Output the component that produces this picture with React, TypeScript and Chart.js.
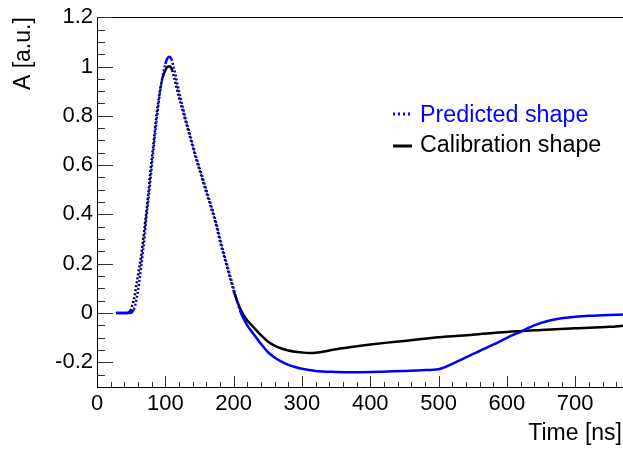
import React, { useEffect, useRef } from "react";
import { Chart, registerables } from "chart.js";

Chart.register(...registerables);

// ---- data ----
const predTime = [28, 35, 42, 48, 51, 54, 57, 60, 63, 66, 69, 72, 76, 80, 84, 88, 92, 96, 100, 103, 106, 109, 112, 115, 118, 122, 126, 130, 135, 140, 145, 150, 155, 160, 165, 170, 175, 180, 185, 190, 195, 200, 205, 210, 215, 220, 225, 230, 240, 250, 260, 270, 280, 290, 300, 310, 320, 330, 340, 350, 375, 400, 425, 450, 475, 500, 510, 520, 530, 540, 550, 560, 570, 580, 590, 600, 610, 620, 630, 640, 650, 660, 670, 680, 690, 700, 720, 740, 760, 770];
const predValues = [0, 0, 0, 0, 0.003, 0.015, 0.045, 0.09, 0.15, 0.22, 0.29, 0.38, 0.48, 0.59, 0.7, 0.8, 0.89, 0.96, 1.01, 1.033, 1.04, 1.03, 1.0, 0.965, 0.925, 0.875, 0.83, 0.785, 0.735, 0.685, 0.635, 0.59, 0.545, 0.5, 0.455, 0.41, 0.36, 0.305, 0.25, 0.2, 0.15, 0.1, 0.05, 0.005, -0.025, -0.05, -0.07, -0.088, -0.125, -0.158, -0.18, -0.197, -0.21, -0.219, -0.226, -0.231, -0.235, -0.237, -0.238, -0.239, -0.24, -0.239, -0.237, -0.235, -0.232, -0.228, -0.219, -0.206, -0.193, -0.18, -0.167, -0.154, -0.141, -0.128, -0.115, -0.101, -0.088, -0.076, -0.062, -0.05, -0.04, -0.032, -0.026, -0.021, -0.018, -0.015, -0.011, -0.009, -0.007, -0.006];

const calTime = [28, 35, 42, 46, 49, 52, 55, 58, 61, 64, 67, 71, 75, 78, 82, 87, 92, 96, 100, 104, 107, 110, 113, 116, 120, 125, 130, 135, 140, 145, 150, 155, 160, 165, 170, 175, 180, 185, 190, 195, 200, 205, 210, 215, 220, 225, 230, 240, 250, 260, 270, 280, 290, 300, 310, 320, 330, 340, 350, 375, 400, 425, 450, 475, 500, 550, 600, 650, 700, 750, 770];
const calValues = [0, 0, 0, 0.002, 0.01, 0.035, 0.07, 0.12, 0.17, 0.22, 0.285, 0.38, 0.48, 0.57, 0.67, 0.8, 0.9, 0.955, 0.985, 1.0, 1.0, 0.985, 0.955, 0.92, 0.875, 0.825, 0.775, 0.725, 0.675, 0.625, 0.58, 0.535, 0.49, 0.445, 0.4, 0.35, 0.29, 0.24, 0.19, 0.14, 0.09, 0.05, 0.015, -0.01, -0.03, -0.045, -0.06, -0.09, -0.115, -0.132, -0.144, -0.152, -0.157, -0.16, -0.162, -0.161, -0.157, -0.152, -0.147, -0.137, -0.128, -0.12, -0.113, -0.105, -0.098, -0.088, -0.077, -0.069, -0.062, -0.056, -0.052];

const xTickValues = [0, 100, 200, 300, 400, 500, 600, 700];
const xTickLabels = ["0", "100", "200", "300", "400", "500", "600", "700"];
const yTickValues = [-0.2, 0, 0.2, 0.4, 0.6, 0.8, 1.0, 1.2];
const yTickLabels = ["-0.2", "0", "0.2", "0.4", "0.6", "0.8", "1", "1.2"];
const seriesLabels = ["Predicted shape", "Calibration shape"];
const seriesColors = ["#0000ff", "#000000"];
const xTitle = "Time [ns]";
const yTitle = "A [a.u.]";

const FONT = "'Liberation Sans', Arial, Helvetica, sans-serif";

// steep parts of the sampled curves look dotted in the reference
const steepDash = (ctx: any) => {
  const p0 = ctx.p0;
  const p1 = ctx.p1;
  const dx = Math.abs(p1.x - p0.x);
  const dy = Math.abs(p1.y - p0.y);
  return dy > 3 * dx ? [2, 2] : undefined;
};

export default function App() {
  const ref = useRef<HTMLCanvasElement>(null);

  useEffect(() => {
    const canvas = ref.current;
    if (!canvas) return;

    const decorPlugin = {
      id: "decor",
      afterDraw(chart: any) {
        const { ctx, chartArea: a, scales } = chart;
        const xs = scales.x;
        const ys = scales.y;
        ctx.save();
        // top frame line
        ctx.strokeStyle = "#000";
        ctx.lineWidth = 1;
        ctx.beginPath();
        ctx.moveTo(a.left, Math.round(a.top) + 0.5);
        ctx.lineTo(a.right, Math.round(a.top) + 0.5);
        ctx.stroke();

        // y ticks (inside)
        ctx.strokeStyle = "#333";
        for (let i = -5; i <= 24; i++) {
          const v = i * 0.05;
          const y = Math.round(ys.getPixelForValue(v)) + 0.5;
          const len = i % 4 === 0 ? 16 : 8;
          ctx.beginPath();
          ctx.moveTo(a.left, y);
          ctx.lineTo(a.left + len, y);
          ctx.stroke();
        }
        // x ticks (inside)
        for (let t = 20; t <= 760; t += 20) {
          const x = Math.round(xs.getPixelForValue(t)) + 0.5;
          const len = t % 100 === 0 ? 11 : 5;
          ctx.beginPath();
          ctx.moveTo(x, a.bottom);
          ctx.lineTo(x, a.bottom - len);
          ctx.stroke();
        }

        // axis titles
        ctx.fillStyle = "#000";
        ctx.font = `23px ${FONT}`;
        ctx.textAlign = "right";
        ctx.textBaseline = "alphabetic";
        ctx.fillText(xTitle, 622, 440);

        ctx.save();
        ctx.translate(30, a.top);
        ctx.rotate(-Math.PI / 2);
        ctx.textAlign = "right";
        ctx.textBaseline = "alphabetic";
        ctx.fillText(yTitle, 0, 0);
        ctx.restore();

        // legend
        ctx.font = `23.3px ${FONT}`;
        const rows = [
          { y: 114, base: 122 },
          { y: 146, base: 152 },
        ];
        seriesLabels.forEach((label, i) => {
          const r = rows[i];
          ctx.strokeStyle = seriesColors[i];
          ctx.lineWidth = 3;
          ctx.setLineDash(i === 0 ? [2, 3] : []);
          ctx.beginPath();
          ctx.moveTo(393, r.y);
          ctx.lineTo(412, r.y);
          ctx.stroke();
          ctx.setLineDash([]);
          ctx.fillStyle = seriesColors[i];
          ctx.textAlign = "left";
          ctx.textBaseline = "alphabetic";
          ctx.fillText(label, 420, r.base);
        });
        ctx.restore();
      },
    };

    const chart = new Chart(canvas, {
      type: "line",
      data: {
        datasets: [
          {
            label: seriesLabels[0],
            data: predTime.map((t, i) => ({ x: t, y: predValues[i] })),
            borderColor: seriesColors[0],
            backgroundColor: seriesColors[0],
            borderWidth: 2.5,
            pointRadius: 0,
            cubicInterpolationMode: "monotone",
            fill: false,
            segment: { borderDash: steepDash },
          },
          {
            label: seriesLabels[1],
            data: calTime.map((t, i) => ({ x: t, y: calValues[i] })),
            borderColor: seriesColors[1],
            backgroundColor: seriesColors[1],
            borderWidth: 2.5,
            pointRadius: 0,
            cubicInterpolationMode: "monotone",
            fill: false,
            segment: { borderDash: steepDash },
          },
        ],
      },
      options: {
        responsive: false,
        animation: false,
        devicePixelRatio: 1,
        layout: { padding: { top: 14, right: 0, left: 0, bottom: 0 } },
        plugins: {
          legend: { display: false },
          tooltip: { enabled: false },
        },
        scales: {
          x: {
            type: "linear",
            min: 0,
            max: 770,
            grid: { display: false, drawTicks: false },
            border: { display: true, color: "#000", width: 1 },
            afterBuildTicks: (scale: any) => {
              scale.ticks = xTickValues.map((v) => ({ value: v }));
            },
            afterFit: (scale: any) => {
              scale.height = 64;
            },
            ticks: {
              autoSkip: false,
              maxRotation: 0,
              padding: 4,
              color: "#000",
              font: { family: FONT, size: 22 },
              callback: (value: any) => {
                const idx = xTickValues.indexOf(Number(value));
                return idx >= 0 ? xTickLabels[idx] : "";
              },
            },
          },
          y: {
            type: "linear",
            min: -0.3,
            max: 1.2,
            grid: { display: false, drawTicks: false },
            border: { display: true, color: "#000", width: 1 },
            afterBuildTicks: (scale: any) => {
              scale.ticks = yTickValues.map((v) => ({ value: v }));
            },
            afterFit: (scale: any) => {
              scale.width = 97;
            },
            ticks: {
              autoSkip: false,
              padding: 4,
              color: "#000",
              font: { family: FONT, size: 22 },
              callback: (value: any) => {
                const idx = yTickValues.findIndex((v) => Math.abs(v - Number(value)) < 1e-9);
                return idx >= 0 ? yTickLabels[idx] : "";
              },
            },
          },
        },
      },
      plugins: [decorPlugin],
    } as any);

    return () => chart.destroy();
  }, []);

  return (
    <div style={{ position: "absolute", left: 0, top: 0, width: 623, height: 451, background: "#fff" }}>
      <canvas ref={ref} width={623} height={451} style={{ display: "block" }} />
    </div>
  );
}
